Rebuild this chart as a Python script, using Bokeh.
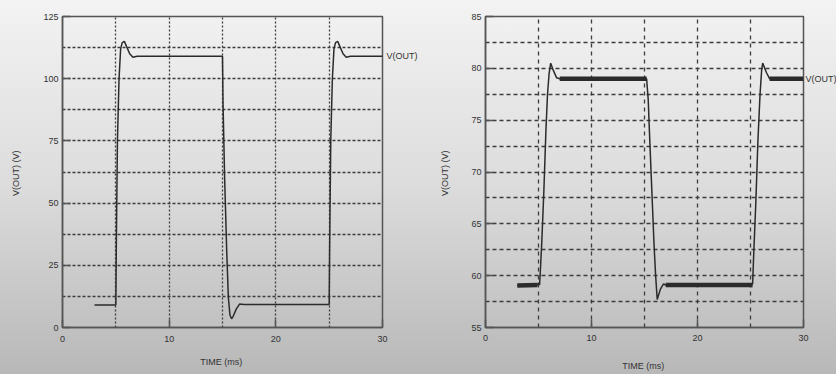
from bokeh.plotting import figure
from bokeh.layouts import row
from bokeh.models import Range1d, FixedTicker, LinearAxis
from bokeh.embed import file_html
from bokeh.resources import INLINE

# ---- data: left panel (V(OUT), 0-125 V scale) ----
t_left = [3.0, 5.0, 5.05, 5.15, 5.3, 5.45, 5.6, 5.8, 6.0, 6.3, 6.6, 7.0,
          15.0, 15.05, 15.2, 15.4, 15.55, 15.7, 15.85, 16.0, 16.3, 16.6, 17.0,
          25.0, 25.05, 25.15, 25.3, 25.45, 25.6, 25.8, 26.0, 26.3, 26.6, 27.0, 30.0]
v_left = [9.0, 9.0, 35.0, 75.0, 100.0, 112.0, 114.5, 115.0, 113.0, 110.0, 108.6, 109.0,
          109.0, 90.0, 60.0, 30.0, 12.0, 5.0, 3.5, 4.5, 7.5, 9.4, 9.2,
          9.2, 35.0, 75.0, 100.0, 112.0, 114.5, 115.0, 113.0, 110.0, 108.6, 109.0, 109.0]

# ---- data: right panel (V(OUT), 55-85 V scale) ----
t_right = [3.0, 4.9, 5.0, 5.1, 5.15, 5.3, 5.5, 5.7, 5.85, 6.0, 6.15, 6.4, 6.7, 7.0,
           15.2, 15.35, 15.5, 15.7, 15.9, 16.05, 16.2, 16.5, 16.8, 17.0,
           25.2, 25.3, 25.5, 25.7, 25.9, 26.05, 26.15, 26.5, 26.8, 30.0]
v_right = [59.05, 59.1, 59.3, 59.1, 60.0, 63.0, 68.0, 74.0, 77.5, 79.5, 80.5, 79.8, 79.1, 79.0,
           79.0, 77.0, 73.0, 68.0, 63.0, 60.0, 57.7, 58.7, 59.2, 59.1,
           59.2, 62.0, 67.0, 73.0, 77.5, 79.8, 80.5, 79.6, 79.0, 79.0]
# steady-state segments drawn heavy (ripple band)
band_t = [[3.0, 4.9], [7.0, 15.2], [17.0, 25.2], [26.8, 30.0]]
band_v = [[59.05, 59.1], [79.0, 79.0], [59.1, 59.1], [79.0, 79.0]]

x_ticks = [0, 10, 20, 30]
x_grid = [5, 10, 15, 20, 25]
y_ticks_left = [0, 25, 50, 75, 100, 125]
y_grid_left = [12.5, 25, 37.5, 50, 62.5, 75, 87.5, 100, 112.5]
y_ticks_right = [55, 60, 65, 70, 75, 80, 85]
y_grid_right = [57.5, 60, 62.5, 65, 67.5, 70, 72.5, 75, 77.5, 80, 82.5]
series_name = "V(OUT)"

FONT = "Liberation Sans"
TXT = "#333333"
LINE = "#2b2b2b"
FRAME = "#555555"


def style(p, yticks, ygrid, xdash, ydash, xlab_standoff, ylab_standoff, xtick_standoff):
    p.background_fill_alpha = 0
    p.border_fill_alpha = 0
    p.outline_line_color = FRAME
    p.outline_line_width = 1.5
    for ax in p.xaxis + p.yaxis:
        ax.axis_line_color = FRAME
        ax.axis_line_width = 1.5
        ax.major_tick_in = 8
        ax.major_tick_out = 0
        ax.minor_tick_line_color = None
        ax.major_tick_line_color = FRAME
        ax.major_tick_line_width = 1.5
        ax.major_label_text_font = FONT
        ax.major_label_text_font_size = "9px"
        ax.major_label_text_color = TXT
        ax.axis_label_text_font = FONT
        ax.axis_label_text_font_size = "9px"
        ax.axis_label_text_font_style = "normal"
        ax.axis_label_text_color = TXT
    p.xaxis.ticker = FixedTicker(ticks=x_ticks)
    p.yaxis.ticker = FixedTicker(ticks=yticks)
    p.xaxis.major_label_standoff = xtick_standoff
    p.yaxis.major_label_standoff = 4
    p.xaxis.axis_label = "TIME  (ms)"
    p.yaxis.axis_label = "V(OUT)  (V)"
    p.xaxis.axis_label_standoff = xlab_standoff
    p.yaxis.axis_label_standoff = ylab_standoff
    p.xgrid.ticker = FixedTicker(ticks=x_grid)
    p.ygrid.ticker = FixedTicker(ticks=ygrid)
    p.xgrid.grid_line_color = "#3c3c3c"
    p.ygrid.grid_line_color = "#3c3c3c"
    p.xgrid.grid_line_width = 1.3
    p.ygrid.grid_line_width = 1.3
    p.xgrid.grid_line_dash = xdash
    p.ygrid.grid_line_dash = ydash


def end_label(p, last_value, standoff):
    ax = LinearAxis(ticker=FixedTicker(ticks=[last_value]),
                    major_label_overrides={last_value: series_name},
                    axis_line_color=None, major_tick_line_color=None,
                    minor_tick_line_color=None, major_tick_in=0, major_tick_out=0,
                    major_label_standoff=standoff, major_label_text_font=FONT,
                    major_label_text_font_size="9px", major_label_text_color=TXT)
    p.add_layout(ax, "right")


# ---- left figure ----
p1 = figure(width=420, height=374, output_backend="svg", toolbar_location=None,
            x_range=Range1d(0, 30), y_range=Range1d(0, 125),
            min_border_left=62, min_border_right=37, min_border_top=7, min_border_bottom=47)
style(p1, y_ticks_left, y_grid_left, "2 2", "3 2", 12, 19, 8)
p1.line(t_left, v_left, line_color=LINE, line_width=1.5)
end_label(p1, v_left[-1], 4)

# ---- right figure (end label runs past the window edge, as in the source) ----
p2 = figure(width=420, height=374, output_backend="svg", toolbar_location=None,
            x_range=Range1d(0, 30), y_range=Range1d(55, 85),
            min_border_left=65, min_border_right=37, min_border_top=16, min_border_bottom=41)
style(p2, y_ticks_right, y_grid_right, "4 4", "4 3", 17, 18, 7)
p2.line(t_right, v_right, line_color=LINE, line_width=1.5)
p2.multi_line(band_t, band_v, line_color=LINE, line_width=4.5)
end_label(p2, v_right[-1], 2)

layout = row(p1, p2, styles={"background": "linear-gradient(to bottom, #f3f3f3 0%, #dcdcdc 50%, #b8b8b8 100%)",
                             "width": "836px", "height": "374px", "overflow": "hidden"})

open("out.html", "w").write(file_html(layout, INLINE))
